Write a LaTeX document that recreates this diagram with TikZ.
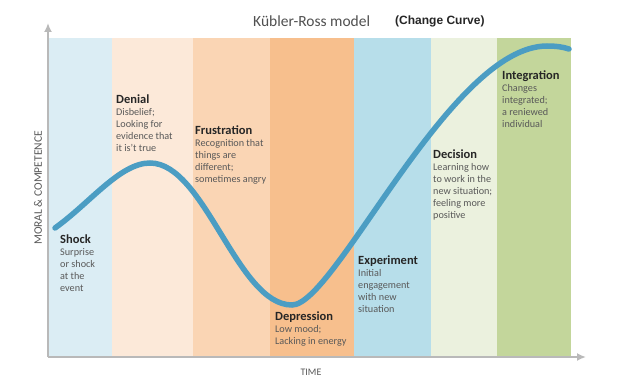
\documentclass[tikz,border=0pt]{standalone}
\usepackage{fontspec}
\setmainfont{Carlito}
\newfontfamily\arialfont{Liberation Sans}
\usepackage{tikz}
\usetikzlibrary{positioning,arrows.meta}
\definecolor{shockband}{RGB}{219,237,244}
\definecolor{denialband}{RGB}{252,233,217}
\definecolor{frustband}{RGB}{250,213,180}
\definecolor{depressband}{RGB}{247,191,141}
\definecolor{experimentband}{RGB}{183,222,234}
\definecolor{decisionband}{RGB}{235,241,222}
\definecolor{integrband}{RGB}{195,214,155}
\definecolor{curveblue}{RGB}{75,157,195}
\definecolor{axisgray}{RGB}{185,185,185}
\definecolor{textgray}{RGB}{89,89,89}
\definecolor{headgray}{RGB}{38,38,38}
\newcommand*{\stagehead}[1]{{\fontsize{12.5}{13}\selectfont\bfseries\color{headgray}#1}}
\tikzset{%
  axis/.style={draw=axisgray, line width=1.8pt, -{Latex[length=9pt,width=8pt]}},% time and moral axes
  stage/.style={anchor=north west, inner sep=0pt, align=left, text=textgray,
    font=\fontsize{10.2}{12}\selectfont},% stage heading + description
  axislabel/.style={text=textgray, font=\fontsize{10}{12}\selectfont},
  change/.style={draw=curveblue, line width=5.5pt, line cap=round}% the change curve
}
\begin{document}
\begin{tikzpicture}[x=1pt, y=-1pt]
\useasboundingbox[fill=white] (0,0) rectangle (640,385);

% coloured bands of the stages
\fill[shockband] (49,38) rectangle (112,356);
\fill[denialband] (112,38) rectangle (193,356);
\fill[frustband] (193,38) rectangle (270,356);
\fill[depressband] (270,38) rectangle (354,356);
\fill[experimentband] (354,38) rectangle (431,356);
\fill[decisionband] (431,38) rectangle (497,356);
\fill[integrband] (497,38) rectangle (571,356);

% axes
\coordinate (origin) at (48,357);
\coordinate (ytop) at (48,23);
\coordinate (xend) at (586,357);
\draw[axis] (origin) -- (ytop);
\draw[axis] (origin) -- (xend);
\node[axislabel, rotate=90, font=\fontsize{11.5}{14}\selectfont] (ylab) at (38,188) {MORAL \& COMPETENCE};
\node[axislabel] (xlab) at (311,372) {TIME};

% title
\node[anchor=base west, inner sep=0pt, text=textgray!90!black, font=\fontsize{15.5}{18}\selectfont] (title) at (253,27) {Kübler-Ross model};
\node[anchor=base west, inner sep=0pt, text=headgray, font=\arialfont\bfseries\fontsize{12}{14}\selectfont] (subtitle) at (395,25) {(Change Curve)};

% the curve
\coordinate (start) at (55,228);
\coordinate (peak) at (150,163);
\coordinate (dip) at (292,305);
\coordinate (top) at (547,46);
\coordinate (finish) at (569,49);
\draw[change] (start) .. controls (90,203) and (120,163) .. (peak)
  .. controls (205,163) and (237,305) .. (dip)
  .. controls (335,305) and (450,46) .. (top)
  .. controls (556,46) and (563,47) .. (finish);

% stages
\node[stage] (shock) at (60,235) {\stagehead{Shock}\\Surprise\\or shock\\at the\\event};
\node[stage] (denial) at (116,95) {\stagehead{Denial}\\Disbelief;\\Looking for\\evidence that\\it is’t true};
\node[stage] (frustration) at (195,126) {\stagehead{Frustration}\\Recognition that\\things are\\different;\\sometimes angry};
\node[stage] (depression) at (275,312) {\stagehead{Depression}\\Low mood;\\Lacking in energy};
\node[stage] (experiment) at (358,256) {\stagehead{Experiment}\\Initial\\engagement\\with new\\situation};
\node[stage] (decision) at (433,150) {\stagehead{Decision}\\Learning how\\to work in the\\new situation;\\feeling more\\positive};
\node[stage] (integration) at (502,71) {\stagehead{Integration}\\Changes\\integrated;\\a reniewed\\individual};

\end{tikzpicture}
\end{document}
